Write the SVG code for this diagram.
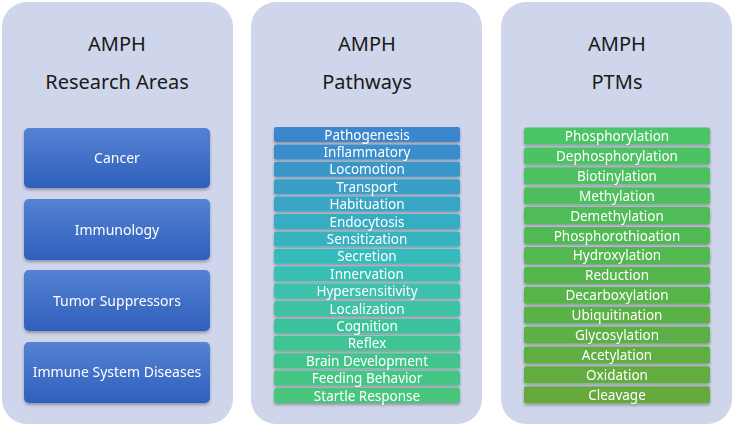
<svg xmlns="http://www.w3.org/2000/svg" width="734" height="426" viewBox="0 0 734 426">
<defs>
<linearGradient id="gb" x1="0" y1="0" x2="0" y2="1"><stop offset="0" stop-color="#5582d2"/><stop offset="1" stop-color="#2f5fbd"/></linearGradient>
<filter id="sh" x="-10%" y="-20%" width="120%" height="150%"><feDropShadow dx="0" dy="2" stdDeviation="1.5" flood-color="#000" flood-opacity="0.3"/></filter>
</defs>
<style>
.panel{fill:#cfd5ea}
.t{font-family:"Noto Sans","Liberation Sans",sans-serif;fill:#1a1a1a;font-size:20px;text-anchor:middle}
.w{font-family:"Noto Sans","Liberation Sans",sans-serif;fill:#fff;text-anchor:middle}
.big{font-size:14px}
.sm{font-size:13.5px}
</style>
<rect class="panel" x="2" y="2" width="231" height="422" rx="25"/>
<rect class="panel" x="251" y="2" width="231" height="422" rx="25"/>
<rect class="panel" x="501" y="2" width="231" height="422" rx="25"/>
<text class="t" x="117" y="51">AMPH</text><text class="t" x="117" y="89">Research Areas</text>
<text class="t" x="367" y="51">AMPH</text><text class="t" x="367" y="89">Pathways</text>
<text class="t" x="617" y="51">AMPH</text><text class="t" x="617" y="89">PTMs</text>
<g id="research" filter="url(#sh)">
<g id="ra1"><rect x="24" y="128" width="186" height="60" rx="5" fill="url(#gb)"/><text class="w big" x="117" y="163">Cancer</text></g>
<g id="ra2"><rect x="24" y="199" width="186" height="61" rx="5" fill="url(#gb)"/><text class="w big" x="117" y="235">Immunology</text></g>
<g id="ra3"><rect x="24" y="270" width="186" height="61" rx="5" fill="url(#gb)"/><text class="w big" x="117" y="306">Tumor Suppressors</text></g>
<g id="ra4"><rect x="24" y="342" width="186" height="61" rx="5" fill="url(#gb)"/><text class="w big" x="117" y="377">Immune System Diseases</text></g>
</g>
<g id="pathways" filter="url(#sh)">
<g><rect x="274" y="127" width="186" height="15" rx="2" fill="#3a86cc"/><text class="w sm" x="367" y="139.5">Pathogenesis</text></g>
<g><rect x="274" y="144.4" width="186" height="15" rx="2" fill="#3a8ecb"/><text class="w sm" x="367" y="156.9">Inflammatory</text></g>
<g><rect x="274" y="161.8" width="186" height="15" rx="2" fill="#3996c9"/><text class="w sm" x="367" y="174.3">Locomotion</text></g>
<g><rect x="274" y="179.2" width="186" height="15" rx="2" fill="#389ec6"/><text class="w sm" x="367" y="191.7">Transport</text></g>
<g><rect x="274" y="196.6" width="186" height="15" rx="2" fill="#37a6c4"/><text class="w sm" x="367" y="209.1">Habituation</text></g>
<g><rect x="274" y="214" width="186" height="15" rx="2" fill="#36adc2"/><text class="w sm" x="367" y="226.5">Endocytosis</text></g>
<g><rect x="274" y="231.4" width="186" height="15" rx="2" fill="#36b4c0"/><text class="w sm" x="367" y="243.9">Sensitization</text></g>
<g><rect x="274" y="248.8" width="186" height="15" rx="2" fill="#36bbbc"/><text class="w sm" x="367" y="261.3">Secretion</text></g>
<g><rect x="274" y="266.2" width="186" height="15" rx="2" fill="#38bfb4"/><text class="w sm" x="367" y="278.7">Innervation</text></g>
<g><rect x="274" y="283.6" width="186" height="15" rx="2" fill="#3ac1ac"/><text class="w sm" x="367" y="296.1">Hypersensitivity</text></g>
<g><rect x="274" y="301" width="186" height="15" rx="2" fill="#3cc2a4"/><text class="w sm" x="367" y="313.5">Localization</text></g>
<g><rect x="274" y="318.4" width="186" height="15" rx="2" fill="#3ec39c"/><text class="w sm" x="367" y="330.9">Cognition</text></g>
<g><rect x="274" y="335.8" width="186" height="15" rx="2" fill="#40c494"/><text class="w sm" x="367" y="348.3">Reflex</text></g>
<g><rect x="274" y="353.2" width="186" height="15" rx="2" fill="#42c58c"/><text class="w sm" x="367" y="365.7">Brain Development</text></g>
<g><rect x="274" y="370.6" width="186" height="15" rx="2" fill="#44c684"/><text class="w sm" x="367" y="383.1">Feeding Behavior</text></g>
<g><rect x="274" y="388" width="186" height="15" rx="2" fill="#46c67c"/><text class="w sm" x="367" y="400.5">Startle Response</text></g>
</g>
<g id="ptms" filter="url(#sh)">
<g><rect x="524" y="127.5" width="186" height="17" rx="2" fill="#4cc468"/><text class="w sm" x="617" y="141">Phosphorylation</text></g>
<g><rect x="524" y="147.4" width="186" height="17" rx="2" fill="#4dc264"/><text class="w sm" x="617" y="160.9">Dephosphorylation</text></g>
<g><rect x="524" y="167.3" width="186" height="17" rx="2" fill="#4ec060"/><text class="w sm" x="617" y="180.8">Biotinylation</text></g>
<g><rect x="524" y="187.2" width="186" height="17" rx="2" fill="#4fbe5c"/><text class="w sm" x="617" y="200.7">Methylation</text></g>
<g><rect x="524" y="207.1" width="186" height="17" rx="2" fill="#50bc58"/><text class="w sm" x="617" y="220.6">Demethylation</text></g>
<g><rect x="524" y="227" width="186" height="17" rx="2" fill="#51ba54"/><text class="w sm" x="617" y="240.5">Phosphorothioation</text></g>
<g><rect x="524" y="246.9" width="186" height="17" rx="2" fill="#53b850"/><text class="w sm" x="617" y="260.4">Hydroxylation</text></g>
<g><rect x="524" y="266.8" width="186" height="17" rx="2" fill="#55b64c"/><text class="w sm" x="617" y="280.3">Reduction</text></g>
<g><rect x="524" y="286.7" width="186" height="17" rx="2" fill="#57b448"/><text class="w sm" x="617" y="300.2">Decarboxylation</text></g>
<g><rect x="524" y="306.6" width="186" height="17" rx="2" fill="#5ab246"/><text class="w sm" x="617" y="320.1">Ubiquitination</text></g>
<g><rect x="524" y="326.5" width="186" height="17" rx="2" fill="#5db044"/><text class="w sm" x="617" y="340">Glycosylation</text></g>
<g><rect x="524" y="346.4" width="186" height="17" rx="2" fill="#60ae42"/><text class="w sm" x="617" y="359.9">Acetylation</text></g>
<g><rect x="524" y="366.3" width="186" height="17" rx="2" fill="#63ac40"/><text class="w sm" x="617" y="379.8">Oxidation</text></g>
<g><rect x="524" y="386.2" width="186" height="17" rx="2" fill="#66aa3e"/><text class="w sm" x="617" y="399.7">Cleavage</text></g>
</g>
</svg>
